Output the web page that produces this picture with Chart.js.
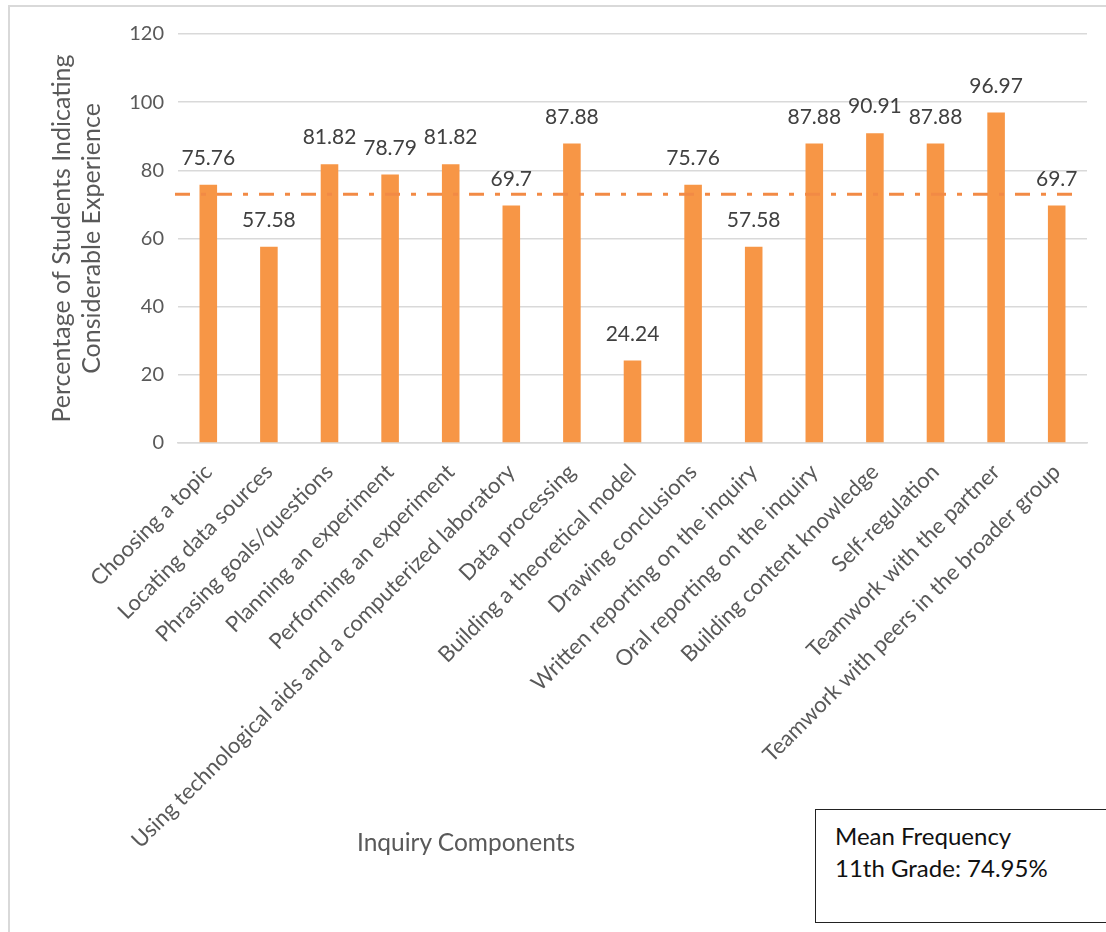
<!DOCTYPE html>
<html>
<head>
<meta charset="utf-8">
<script src="https://cdn.jsdelivr.net/npm/chart.js@4.4.1/dist/chart.umd.min.js"></script>
<style>
  html, body { margin: 0; padding: 0; background: #fff; }
  #wrap { position: relative; width: 1106px; height: 932px; overflow: hidden; }
  #frame { position: absolute; left: 8px; top: 5px; width: 1200px; height: 1000px;
           border-top: 2px solid #d9d9d9; border-left: 2px solid #d9d9d9; }
  #xtitle { position: absolute; left: 357px; top: 827px; font: 24.5px Lato, sans-serif;
            line-height: 30px; color: #595959; }
  #note { position: absolute; left: 815px; top: 809px; width: 300px; height: 114px;
          border: 1.5px solid #222; box-sizing: border-box; background: #fff;
          font: 24px Lato, sans-serif; color: #111; padding: 10px 0 0 19px; line-height: 32px; }
</style>
</head>
<body>
<div id="wrap">
  <div id="frame"></div>
  <canvas id="myChart" width="1106" height="932"></canvas>
  <div id="xtitle">Inquiry Components</div>
  <div id="note">Mean Frequency<br>11th Grade: 74.95%</div>
</div>
<script>
let categories = [
  'Choosing a topic',
  'Locating data sources',
  'Phrasing goals/questions',
  'Planning an experiment',
  'Performing an experiment',
  'Using technological aids and a computerized laboratory',
  'Data processing',
  'Building a theoretical model',
  'Drawing conclusions',
  'Written reporting on the inquiry',
  'Oral reporting on the inquiry',
  'Building content knowledge',
  'Self-regulation',
  'Teamwork with the partner',
  'Teamwork with peers in the broader group'
];
let values = [75.76, 57.58, 81.82, 78.79, 81.82, 69.7, 87.88, 24.24, 75.76, 57.58, 87.88, 90.91, 87.88, 96.97, 69.7];
let yTicks = [0, 20, 40, 60, 80, 100, 120];
let meanLine = 73;

const barLabels = {
    id: 'barLabels',
    afterDatasetsDraw(chart) {
        const ctx = chart.ctx;
        const meta = chart.getDatasetMeta(0);
        ctx.save();
        ctx.font = '21px Lato, sans-serif';
        ctx.fillStyle = '#404040';
        ctx.textAlign = 'center';
        ctx.textBaseline = 'bottom';
        meta.data.forEach((bar, i) => {
            ctx.fillText(String(values[i]), bar.x, bar.y - 16);
        });
        ctx.restore();
    }
};

const meanPlugin = {
    id: 'meanPlugin',
    afterDatasetsDraw(chart) {
        const ctx = chart.ctx;
        const area = chart.chartArea;
        const y = chart.scales.y.getPixelForValue(meanLine);
        ctx.save();
        ctx.strokeStyle = '#F28A45';
        ctx.lineWidth = 3;
        ctx.setLineDash([15, 11, 5, 11]);
        ctx.beginPath();
        ctx.moveTo(area.left - 3, y);
        ctx.lineTo(area.right - 15, y);
        ctx.stroke();
        ctx.restore();
    }
};

let ctx = document.getElementById('myChart').getContext('2d');
let myChart = new Chart(ctx, {
    type: 'bar',
    data: {
        labels: categories,
        datasets: [{
            label: 'Percentage',
            data: values,
            backgroundColor: '#F79646',
            borderWidth: 0,
            barPercentage: 0.29,
            categoryPercentage: 1
        }]
    },
    options: {
        responsive: false,
        animation: false,
        layout: { padding: { top: 34, left: 10, right: 19, bottom: 0 } },
        plugins: { legend: { display: false }, tooltip: { enabled: false } },
        scales: {
            y: {
                min: 0,
                max: 120,
                afterFit: s => { s.width = 168; },
                afterBuildTicks: s => { s.ticks = yTicks.map(v => ({ value: v })); },
                ticks: { color: '#595959', font: { family: 'Lato', size: 20 }, padding: 14 },
                grid: { color: '#d9d9d9', lineWidth: 1.5, drawTicks: false },
                border: { display: false },
                title: {
                    display: true,
                    text: ['Percentage of Students Indicating', 'Considerable Experience'],
                    color: '#595959',
                    font: { family: 'Lato', size: 25, lineHeight: 1.2 },
                    padding: { top: 37, bottom: 0 }
                }
            },
            x: {
                afterFit: s => { s.height = 489; },
                ticks: {
                    color: '#595959', font: { family: 'Lato', size: 22 },
                    minRotation: 45, maxRotation: 45, autoSkip: false, padding: 8
                },
                grid: { display: false },
                border: { color: '#d9d9d9', width: 1.5 }
            }
        }
    },
    plugins: [barLabels, meanPlugin]
});
</script>
</body>
</html>
